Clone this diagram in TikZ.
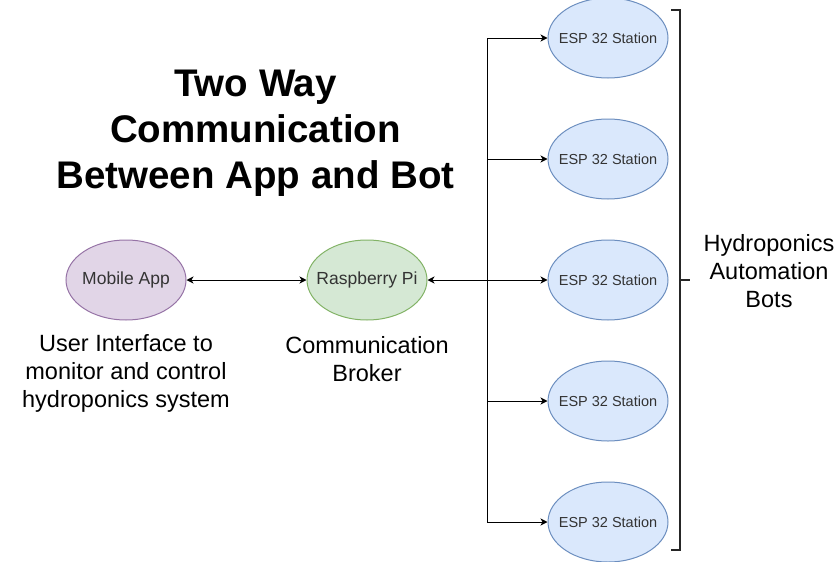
\documentclass[tikz,border=0pt]{standalone}
\usepackage{fontspec}
\setmainfont{Liberation Sans}
\usetikzlibrary{positioning,shapes.geometric,arrows.meta}

\definecolor{appfill}{HTML}{E1D5E7}
\definecolor{appline}{HTML}{9673A6}
\definecolor{pifill}{HTML}{D5E8D4}
\definecolor{piline}{HTML}{82B366}
\definecolor{espfill}{HTML}{DAE8FC}
\definecolor{espline}{HTML}{6C8EBF}

\begin{document}
\begin{tikzpicture}[
    x=1pt, y=-1pt,
    node distance = 40pt and 120pt,
    roundnode/.style={ellipse, draw, line width=1pt, minimum width=120pt, minimum height=80pt, inner xsep=-20pt, inner ysep=0pt, text=black!80},
    appnode/.style={roundnode, fill=appfill, draw=appline, font=\fontsize{17.5}{21}\selectfont},
    pinode/.style={roundnode, fill=pifill, draw=piline, font=\fontsize{17.5}{21}\selectfont},
    espnode/.style={roundnode, fill=espfill, draw=espline, font=\fontsize{14.5}{17}\selectfont},
    note/.style={align=center, inner sep=0pt, font=\fontsize{23.5}{28}\selectfont},
    link/.style={line width=1pt, {Stealth[length=7pt,width=7pt,inset=2pt]}-{Stealth[length=7pt,width=7pt,inset=2pt]}},
    feed/.style={line width=1pt, -{Stealth[length=7pt,width=7pt,inset=2pt]}},
    bracket/.style={line width=2pt, draw=black!85},
  ]
  \useasboundingbox (0,0) rectangle (838,562);

  % app, broker and bots
  \node[appnode] (app) at (126,280) {Mobile App};
  \node[pinode] (pi) [right=of app] {Raspberry Pi};
  \node[espnode] (esp3) [right=of pi] {ESP 32 Station};
  \node[espnode] (esp2) [above=of esp3] {ESP 32 Station};
  \node[espnode] (esp1) [above=of esp2] {ESP 32 Station};
  \node[espnode] (esp4) [below=of esp3] {ESP 32 Station};
  \node[espnode] (esp5) [below=of esp4] {ESP 32 Station};

  \node[align=center, inner sep=0pt, font=\fontsize{38.5}{46}\selectfont\bfseries] (title) at (255.5,133) {Two Way\\Communication\\Between App and Bot};
  \node[note] (appnote) [below=14pt of app] {User Interface to\\monitor and control\\hydroponics system};
  \node[note] (pinote) [below=16pt of pi] {Communication\\Broker};

  \coordinate[right=60pt of pi] (spine);
  \draw[link] (app) -- (pi);
  \draw[link] (pi) -- (esp3);
  \draw[feed] (spine) |- (esp1);
  \draw[feed] (spine) |- (esp2);
  \draw[feed] (spine) |- (esp4);
  \draw[feed] (spine) |- (esp5);

  \draw[bracket] (671,10) -- (680,10) -- (680,550) -- (671,550);
  \draw[bracket] (680,280) -- (690,280);
  \node[note] (botnote) at (769,271) {Hydroponics\\Automation\\Bots};
\end{tikzpicture}
\end{document}
